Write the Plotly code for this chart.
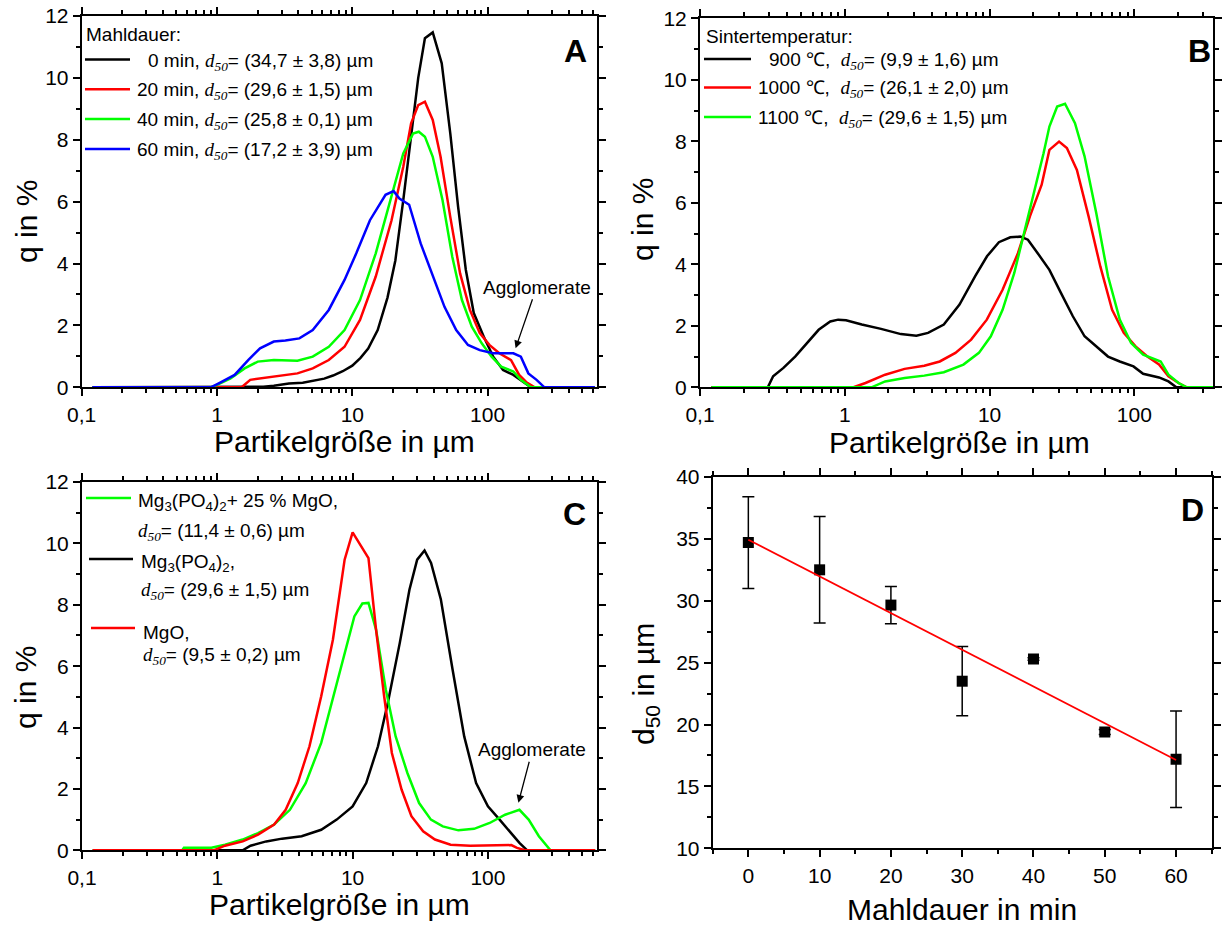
import numpy as np
import plotly.graph_objects as go

FONT = "Liberation Sans"
W, H = 1224, 926

# ---------------- Panel A: Mahldauer ----------------
a0_x = [0.12, 1.54, 2.2, 2.63, 3.4, 4.3, 5.1, 6.2, 7.2, 8.5, 10, 11.5, 13.1, 15.4, 18.2, 20.8, 23.8, 27.2,
        30.7, 34.4, 39.3, 45.8, 53, 60.5, 69, 79, 93.5, 110, 130, 155, 183, 209, 620]
a0_y = [0, 0, 0.02, 0.05, 0.12, 0.15, 0.2, 0.28, 0.38, 0.52, 0.7, 0.95, 1.25, 1.85, 2.9, 4.1, 6.05, 8.2,
        10.0, 11.28, 11.47, 10.47, 8.2, 5.84, 3.8, 2.4, 1.64, 0.99, 0.56, 0.4, 0.18, 0, 0]
a20_x = [0.12, 1.52, 1.76, 2.63, 3.93, 5.1, 6.7, 8.76, 11.4, 14.9, 19.5, 23.8, 27.2, 30.7, 34.4, 39.3, 44.9,
         53, 62.6, 74, 87.5, 103, 122, 149, 171, 195, 223, 620]
a20_y = [0, 0, 0.24, 0.34, 0.45, 0.61, 0.88, 1.31, 2.18, 3.58, 5.4, 7.13, 8.53, 9.12, 9.23, 8.64, 7.45,
         5.5, 3.68, 2.5, 1.75, 1.37, 1.1, 0.88, 0.4, 0.15, 0, 0]
a40_x = [0.12, 0.9, 1.0, 1.26, 1.6, 2.0, 2.63, 3.93, 5.1, 6.7, 8.76, 11.4, 14.9, 19.5, 23.8, 28.1, 31, 34.4,
         39.3, 46.4, 54.8, 64.6, 76.4, 90.5, 107, 126, 155, 176, 209, 620]
a40_y = [0, 0, 0.08, 0.29, 0.61, 0.83, 0.88, 0.86, 0.99, 1.31, 1.85, 2.82, 4.33, 6.16, 7.56, 8.2, 8.26, 8.1,
         7.45, 6.05, 4.22, 2.82, 1.96, 1.42, 0.99, 0.67, 0.51, 0.24, 0, 0]
a60_x = [0.12, 0.9, 1.03, 1.35, 1.7, 2.08, 2.63, 3.2, 4.06, 5.1, 6.7, 8.76, 10.7, 13.5, 17.6, 20.2, 22.3,
         26.3, 32, 39.3, 48, 58.6, 71.6, 87.5, 110, 155, 176, 200, 230, 263, 620]
a60_y = [0, 0, 0.13, 0.4, 0.88, 1.26, 1.48, 1.51, 1.58, 1.85, 2.5, 3.47, 4.33, 5.4, 6.22, 6.34, 6.1,
         5.9, 4.65, 3.58, 2.6, 1.85, 1.37, 1.2, 1.1, 1.1, 0.99, 0.45, 0.24, 0, 0]

# ---------------- Panel B: Sintertemperatur ----------------
b900_x = [0.12, 0.294, 0.32, 0.377, 0.454, 0.547, 0.66, 0.794, 0.9, 1.02, 1.31, 1.78, 2.44, 3.12, 3.76, 4.83,
          6.2, 7.94, 9.6, 11.6, 13.9, 16.3, 18.4, 21.5, 25.9, 31.1, 37.6, 45.3, 54.6, 65.8, 79.3, 98.6,
          115, 148, 172, 195, 350]
b900_y = [0, 0, 0.36, 0.63, 1.0, 1.44, 1.87, 2.14, 2.2, 2.18, 2.04, 1.9, 1.73, 1.68, 1.77, 2.04,
          2.69, 3.61, 4.26, 4.72, 4.88, 4.9, 4.8, 4.36, 3.82, 3.07, 2.31, 1.66, 1.33, 1.0, 0.84, 0.68,
          0.44, 0.32, 0.19, 0, 0]
b1000_x = [0.12, 1.15, 1.39, 1.9, 2.59, 3.54, 4.53, 5.81, 7.46, 9.57, 12.3, 15.7, 19, 22.9, 25.9, 30.2, 34.2,
           40.1, 48.3, 58.2, 70.2, 84.5, 102, 123, 148, 172, 202, 230, 350]
b1000_y = [0, 0, 0.14, 0.41, 0.6, 0.7, 0.84, 1.12, 1.55, 2.2, 3.17, 4.36, 5.56, 6.59, 7.72, 7.99, 7.78,
           7.07, 5.56, 3.93, 2.52, 1.77, 1.33, 1.0, 0.74, 0.36, 0.14, 0, 0]
b1100_x = [0.12, 1.53, 1.9, 2.59, 3.54, 4.83, 6.6, 8.44, 10.2, 12.3, 14.8, 17.8, 20.8, 23.6, 25.9, 29.3, 33.2,
           38.9, 45.3, 54.6, 65.8, 79.3, 95, 115, 152, 172, 202, 230, 350]
b1100_y = [0, 0, 0.19, 0.3, 0.38, 0.49, 0.74, 1.12, 1.66, 2.52, 3.71, 5.23, 6.53, 7.61, 8.48, 9.13, 9.22,
           8.59, 7.51, 5.66, 3.61, 2.2, 1.44, 1.06, 0.84, 0.41, 0.14, 0, 0]

# ---------------- Panel C: Pulver ----------------
cmix_x = [0.12, 0.55, 0.567, 0.905, 1.14, 1.54, 2.0, 2.63, 3.44, 4.5, 5.86, 7.63, 9.04, 10.3, 11.8, 13.1,
          14.9, 17.6, 20.8, 25.4, 31, 37.9, 46.4, 60.5, 79, 103, 134, 171, 200, 238, 290, 620]
cmix_y = [0, 0, 0.08, 0.08, 0.18, 0.35, 0.56, 0.84, 1.32, 2.19, 3.5, 5.45, 6.75, 7.62, 8.04, 8.06,
          7.19, 5.23, 3.71, 2.52, 1.54, 1.0, 0.78, 0.65, 0.7, 0.89, 1.16, 1.32, 1.0, 0.46, 0, 0]
cmgp_x = [0.12, 1.54, 1.76, 2.3, 3.01, 4.2, 5.86, 7.63, 10, 12.6, 15.4, 18.2, 22.3, 26.3, 30, 34, 38, 44.9,
          54.8, 66.8, 81.8, 100, 122, 149, 171, 195, 620]
cmgp_y = [0, 0, 0.15, 0.29, 0.38, 0.46, 0.67, 1.0, 1.43, 2.19, 3.39, 4.8, 6.75, 8.49, 9.47, 9.77, 9.36, 8.17,
          5.89, 3.71, 2.19, 1.43, 1.0, 0.56, 0.24, 0, 0]
cmgo_x = [0.12, 0.94, 1.14, 1.54, 2.0, 2.63, 3.2, 3.93, 4.8, 5.86, 7.15, 8.73, 10.0, 11.4, 13.1, 14.9, 17.1,
          19.5, 23, 27.2, 33.2, 40.6, 53, 74, 103, 149, 164, 188, 620]
cmgo_y = [0, 0, 0.15, 0.29, 0.51, 0.84, 1.32, 2.19, 3.39, 5.02, 6.86, 9.47, 10.36, 9.96, 9.52, 7.19, 5.02,
          3.17, 1.98, 1.11, 0.62, 0.35, 0.18, 0.15, 0.16, 0.17, 0.08, 0, 0]

# ---------------- Panel D: d50 vs Mahldauer ----------------
d_time = [0, 10, 20, 30, 40, 50, 60]
d_d50 = [34.7, 32.5, 29.65, 23.5, 25.3, 19.4, 17.2]
d_err = [3.7, 4.3, 1.5, 2.8, 0.1, 0.2, 3.9]

fit = np.polyfit(d_time, d_d50, 1)
fit_x = [min(d_time), max(d_time)]
fit_y = list(np.polyval(fit, fit_x))

# tick labels
log_tickvals = [0.1, 1, 10, 100]
log_ticktext = ["0,1", "1", "10", "100"]

BLACK, RED, GREEN, BLUE = "#000000", "#ff0000", "#00ff00", "#0000ff"
D50 = "<span style=\"font-family:'Liberation Serif'\"><i>d<sub>50</sub></i></span>"

# legend texts
legA_title = "Mahldauer:"
legA = [("0 min, " + D50 + "= (34,7 ± 3,8) µm", BLACK),
        ("20 min, " + D50 + "= (29,6 ± 1,5) µm", RED),
        ("40 min, " + D50 + "= (25,8 ± 0,1) µm", GREEN),
        ("60 min, " + D50 + "= (17,2 ± 3,9) µm", BLUE)]
legB_title = "Sintertemperatur:"
legB = [("900 ℃,\u00a0 " + D50 + "= (9,9 ± 1,6) µm", BLACK),
        ("1000 ℃,\u00a0 " + D50 + "= (26,1 ± 2,0) µm", RED),
        ("1100 ℃,\u00a0 " + D50 + "= (29,6 ± 1,5) µm", GREEN)]
legC = [("Mg<sub>3</sub>(PO<sub>4</sub>)<sub>2</sub>+ 25 % MgO,", D50 + "= (11,4 ± 0,6) µm", GREEN),
        ("Mg<sub>3</sub>(PO<sub>4</sub>)<sub>2</sub>,", D50 + "= (29,6 ± 1,5) µm", BLACK),
        ("MgO,", D50 + "= (9,5 ± 0,2) µm", RED)]

fig = go.Figure()


def curve(x, y, color, name, xa, ya, width=2.5):
    fig.add_trace(go.Scatter(x=x, y=y, mode="lines", line=dict(color=color, width=width), name=name,
                             xaxis=xa, yaxis=ya, showlegend=False))


curve(a0_x, a0_y, BLACK, "0 min", "x", "y")
curve(a20_x, a20_y, RED, "20 min", "x", "y")
curve(a40_x, a40_y, GREEN, "40 min", "x", "y")
curve(a60_x, a60_y, BLUE, "60 min", "x", "y")

curve(b900_x, b900_y, BLACK, "900 ℃", "x2", "y2")
curve(b1000_x, b1000_y, RED, "1000 ℃", "x2", "y2")
curve(b1100_x, b1100_y, GREEN, "1100 ℃", "x2", "y2")

curve(cmgp_x, cmgp_y, BLACK, "Mg3(PO4)2", "x3", "y3")
curve(cmix_x, cmix_y, GREEN, "Mg3(PO4)2 + 25 % MgO", "x3", "y3")
curve(cmgo_x, cmgo_y, RED, "MgO", "x3", "y3")

fig.add_trace(go.Scatter(x=d_time, y=d_d50, mode="markers", name="d50",
                         marker=dict(symbol="square", size=11, color=BLACK),
                         error_y=dict(type="data", array=d_err, visible=True, color=BLACK, thickness=1.5, width=6),
                         xaxis="x4", yaxis="y4", showlegend=False))
fig.add_trace(go.Scatter(x=fit_x, y=fit_y, mode="lines", line=dict(color=RED, width=1.8), name="Fit",
                         xaxis="x4", yaxis="y4", showlegend=False))


def px_x(p):
    return p / W


def px_y(p):
    return 1 - p / H


tickfont = dict(family=FONT, size=21, color="black")
TITLE_SIZE = 30
LEG_SIZE = 19


def log_minor(top):
    vals = []
    for dec in [0.1, 1, 10, 100]:
        for k in range(2, 10):
            v = dec * k
            if v < top:
                vals.append(v)
    return vals


def log_axis(dom, anchor, rng_top):
    return dict(type="log", domain=dom, anchor=anchor, range=[-1, np.log10(rng_top)], automargin=False,
                showline=True, linecolor="black", linewidth=2, mirror="ticks",
                ticks="outside", ticklen=7, tickwidth=2, tickcolor="black",
                tickvals=log_tickvals, ticktext=log_ticktext,
                showgrid=False, zeroline=False, tickfont=tickfont,
                minor=dict(ticks="outside", ticklen=4, tickwidth=1.5, tickcolor="black",
                           tickvals=log_minor(rng_top), showgrid=False))


def q_axis(dom, anchor):
    return dict(domain=dom, anchor=anchor, range=[0, 12], tickmode="linear", tick0=0, dtick=2, automargin=False,
                showline=True, linecolor="black", linewidth=2, mirror="ticks",
                ticks="outside", ticklen=7, tickwidth=2, tickcolor="black",
                showgrid=False, zeroline=False, tickfont=tickfont,
                minor=dict(ticks="outside", ticklen=4, tickwidth=1.5, tickcolor="black", dtick=1, showgrid=False))


xA = [px_x(81.7), px_x(596.7)]
xB = [px_x(700), px_x(1213.3)]
xC = [px_x(82), px_x(597)]
xD = [px_x(712.7), px_x(1211.7)]
yA = [px_y(387.3), px_y(16)]
yB = [px_y(387.3), px_y(18.3)]
yC = [px_y(850.3), px_y(482)]
yD = [px_y(848.3), px_y(477)]

fig.update_layout(
    width=W, height=H, margin=dict(l=0, r=0, t=0, b=0, autoexpand=False),
    paper_bgcolor="white", plot_bgcolor="white",
    font=dict(family=FONT, color="black"),
    showlegend=False,
    xaxis=log_axis(xA, "y", 640), yaxis=q_axis(yA, "x"),
    xaxis2=log_axis(xB, "y2", 351), yaxis2=q_axis(yB, "x2"),
    xaxis3=log_axis(xC, "y3", 640), yaxis3=q_axis(yC, "x3"),
    xaxis4=dict(domain=xD, anchor="y4", range=[-5, 65], tickmode="array", tickvals=d_time, automargin=False,
                showline=True, linecolor="black", linewidth=2, mirror="ticks",
                ticks="outside", ticklen=7, tickwidth=2, tickcolor="black",
                showgrid=False, zeroline=False, tickfont=tickfont,
                minor=dict(ticks="outside", ticklen=4, tickwidth=1.5, tickcolor="black",
                           tickvals=[-5, 5, 15, 25, 35, 45, 55, 65], showgrid=False)),
    yaxis4=dict(domain=yD, anchor="x4", range=[10, 40], tickmode="linear", tick0=10, dtick=5, automargin=False,
                showline=True, linecolor="black", linewidth=2, mirror="ticks",
                ticks="outside", ticklen=7, tickwidth=2, tickcolor="black",
                showgrid=False, zeroline=False, tickfont=tickfont,
                minor=dict(ticks="outside", ticklen=4, tickwidth=1.5, tickcolor="black", dtick=2.5, showgrid=False)),
)


def text(t, x, y, size, xanchor="left", yanchor="middle", angle=0, bold=False):
    fig.add_annotation(text=("<b>" + t + "</b>") if bold else t, x=px_x(x), y=px_y(y),
                       xref="paper", yref="paper", showarrow=False, textangle=angle,
                       font=dict(family=FONT, size=size, color="black"),
                       xanchor=xanchor, yanchor=yanchor)


def key(x0, x1, y, color):
    fig.add_shape(type="line", xref="paper", yref="paper", x0=px_x(x0), x1=px_x(x1), y0=px_y(y), y1=px_y(y),
                  line=dict(color=color, width=2.5))


# axis titles
text("Partikelgröße in µm", 344, 441, TITLE_SIZE, xanchor="center")
text("Partikelgröße in µm", 959, 442, TITLE_SIZE, xanchor="center")
text("Partikelgröße in µm", 339, 904, TITLE_SIZE, xanchor="center")
text("Mahldauer in min", 962, 909, TITLE_SIZE, xanchor="center")
text("q in %", 27, 222, TITLE_SIZE, xanchor="center", angle=-90)
text("q in %", 642, 220, TITLE_SIZE, xanchor="center", angle=-90)
text("q in %", 25, 688, TITLE_SIZE, xanchor="center", angle=-90)
text("d<sub>50</sub> in µm", 645, 684, TITLE_SIZE, xanchor="center", angle=-90)

# panel letters
for letter, xx, yy in [("A", 575, 51), ("B", 1199, 51), ("C", 574, 514), ("D", 1192, 510)]:
    text(letter, xx, yy, 32, xanchor="center", bold=True)

# legend A
text(legA_title, 84, 35, LEG_SIZE)
for i, (t, c) in enumerate(legA):
    yy = 59.5 + 29.8 * i
    key(85, 130, yy, c)
    text(t, 146 if i == 0 else 135, yy + 2, LEG_SIZE)

# legend B
text(legB_title, 704, 36, LEG_SIZE)
for i, (t, c) in enumerate(legB):
    yy = [59, 87.5, 117][i]
    key(704, 751, yy, c)
    text(t, 767 if i == 0 else 756, yy + 2, LEG_SIZE)

# legend C
for (t1, t2, c), ly, x0, x1, tx, y2 in zip(legC, [498, 559, 628], [86, 89, 91], [131, 133, 135],
                                            [136, 139, 141], [530, 589, 654]):
    key(x0, x1, ly, c)
    text(t1, tx, ly + 4, LEG_SIZE)
    text(t2, tx, y2 + 2, LEG_SIZE)

# Agglomerate arrows
fig.add_annotation(text="Agglomerate", x=np.log10(161), y=1.26, xref="x", yref="y",
                   ax=21, ay=-61, showarrow=True, arrowhead=2, arrowsize=1.2, arrowwidth=1.3,
                   arrowcolor="black", font=dict(family=FONT, size=LEG_SIZE, color="black"))
fig.add_annotation(text="Agglomerate", x=np.log10(168), y=1.55, xref="x3", yref="y3",
                   ax=14, ay=-53, showarrow=True, arrowhead=2, arrowsize=1.2, arrowwidth=1.3,
                   arrowcolor="black", font=dict(family=FONT, size=LEG_SIZE, color="black"))

fig.write_html("out.html")
